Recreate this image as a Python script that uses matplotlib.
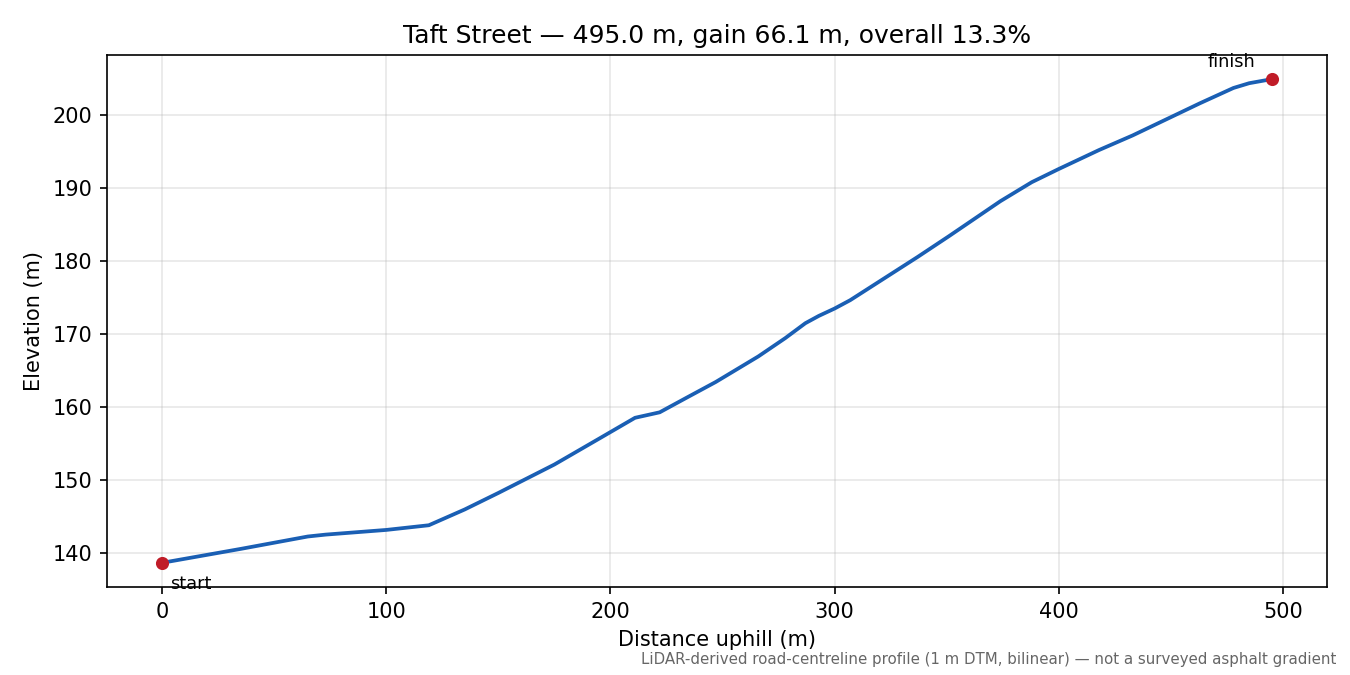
import matplotlib
matplotlib.use("Agg")
import matplotlib.pyplot as plt
import numpy as np

# profile (distance uphill in m, elevation in m)
dist = [0, 35, 65, 73, 100, 119, 135, 150, 175, 195, 211, 222, 234, 247,
        266, 278, 287, 293, 300, 307, 322, 337, 351, 374, 388, 400,
        418, 433, 448, 463, 478, 485, 495]
elev = [138.7, 140.6, 142.3, 142.56, 143.2, 143.84, 146.0, 148.26, 152.15,
        155.7, 158.55, 159.3, 161.3, 163.45, 166.95, 169.45, 171.5, 172.5,
        173.5, 174.65, 177.6, 180.55, 183.4, 188.2, 190.8, 192.6,
        195.2, 197.2, 199.4, 201.6, 203.7, 204.35, 204.9]

street = "Taft Street"
length_m = 495.0
gain_m = 66.1
overall_pct = 13.3
note = "LiDAR-derived road-centreline profile (1 m DTM, bilinear) \u2014 not a surveyed asphalt gradient"

fig, ax = plt.subplots(figsize=(9, 4.5), dpi=150)
fig.subplots_adjust(left=0.079, right=0.983, top=0.9185, bottom=0.1304)

ax.plot(dist, elev, color="#1a5fb4", lw=1.8, zorder=3)
ax.scatter([dist[0], dist[-1]], [elev[0], elev[-1]], color="#c01c28", s=28, zorder=4)

ax.annotate("start", (dist[0], elev[0]), xytext=(4, -6), textcoords="offset points",
            ha="left", va="top", fontsize=8.5)
ax.annotate("finish", (dist[-1], elev[-1]), xytext=(-8, 4), textcoords="offset points",
            ha="right", va="bottom", fontsize=8.5)

ax.set_title(f"{street} \u2014 {length_m:.1f} m, gain {gain_m:.1f} m, overall {overall_pct:.1f}%")
ax.set_xlabel("Distance uphill (m)")
ax.set_ylabel("Elevation (m)")
ax.grid(True, alpha=0.3)

fig.text(0.99, 0.012, note, ha="right", va="bottom", fontsize=7.2, color="#666666")

fig.savefig("out.png", dpi=150)
